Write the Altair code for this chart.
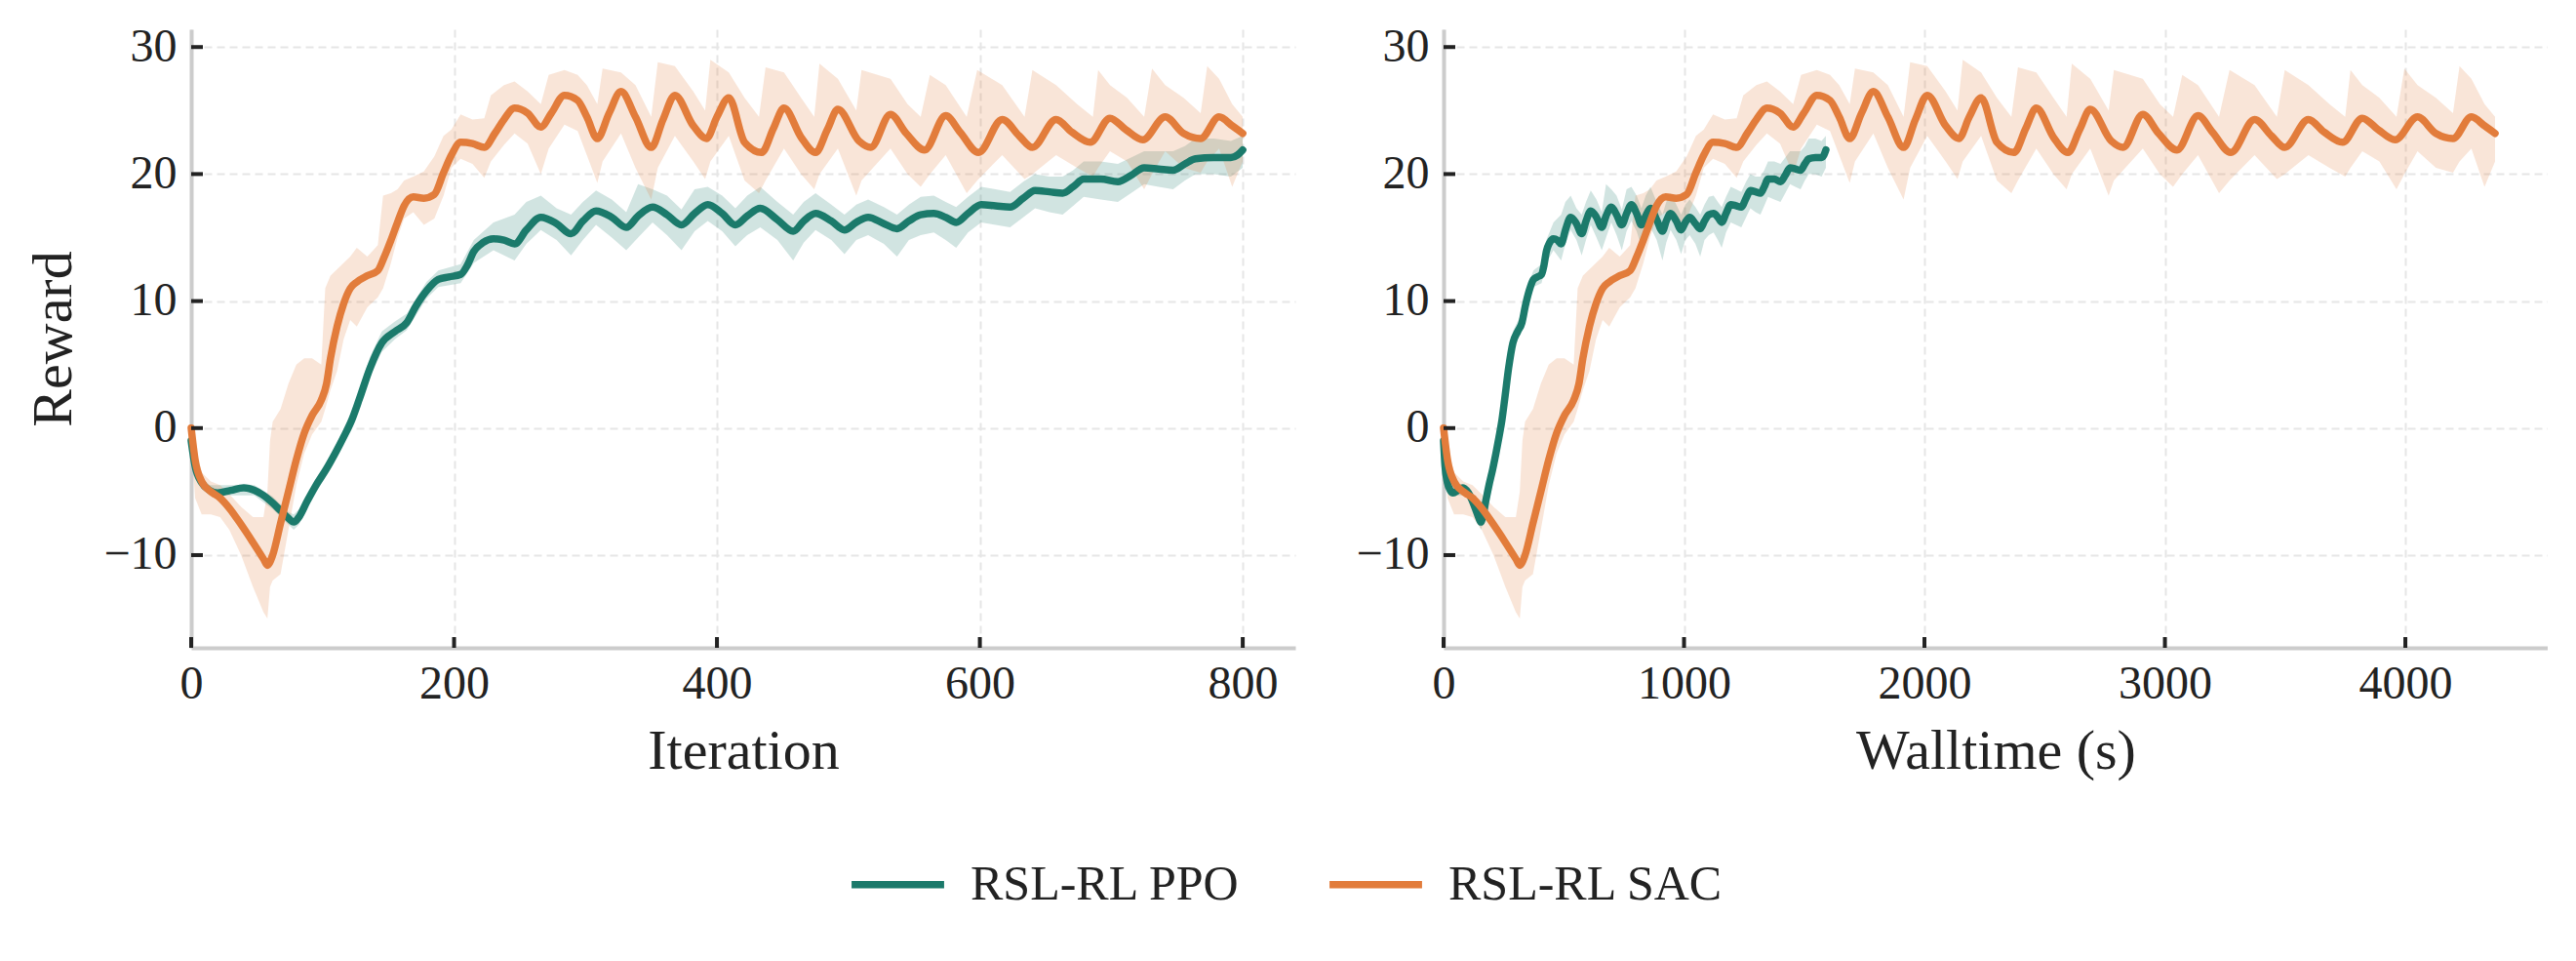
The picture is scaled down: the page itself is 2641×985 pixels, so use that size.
import altair as alt
import pandas as pd

METHODS = ["RSL-RL PPO", "RSL-RL SAC"]
COLORS = ["#1b7a6b", "#e27c3b"]
WALLTIME_AT_END = [1590, 4373]   # seconds reached at the last iteration
LAST_ITER = 800

Y_TICKS = [-10, 0, 10, 20, 30]
ITER_TICKS = [0, 200, 400, 600, 800]
WALL_TICKS = [0, 1000, 2000, 3000, 4000]
Y_DOMAIN = [-17.3, 31.4]
ITER_DOMAIN = [0, 840]
WALL_DOMAIN = [0, 4592]

# ---- RSL-RL PPO: smoothed mean ----
ppo_iter = [0, 3, 8, 14, 20, 30, 40, 48, 55, 62, 68, 74, 78, 82, 88, 95, 103, 110, 116, 122,
            128, 136, 145, 155, 164, 171, 179, 188, 196, 205, 210, 215, 222, 230, 238, 246, 255,
            266, 278, 289, 298, 308, 320, 331, 340, 351, 362, 373, 383, 393, 404, 414, 423, 433,
            446, 458, 466, 475, 487, 497, 506, 515, 527, 537, 546, 555, 565, 574, 582, 591, 601,
            612, 623, 633, 642, 653, 663, 671, 679, 692, 705, 715, 725, 736, 747, 756, 764, 778,
            791, 796, 800]
ppo_mean = [-1.0, -3.0, -4.3, -4.9, -5.1, -4.9, -4.7, -4.9, -5.3, -5.9, -6.5, -7.1, -7.4, -7.0,
            -5.8, -4.5, -3.2, -1.9, -0.7, 0.6, 2.3, 4.7, 6.7, 7.6, 8.3, 9.6, 10.8, 11.7, 11.9,
            12.1, 12.8, 13.9, 14.6, 14.9, 14.8, 14.5, 15.6, 16.6, 16.1, 15.3, 16.3, 17.1, 16.6,
            15.8, 16.7, 17.4, 16.8, 16.0, 16.9, 17.6, 16.9, 16.0, 16.7, 17.3, 16.4, 15.5, 16.3,
            16.9, 16.3, 15.6, 16.2, 16.6, 16.1, 15.7, 16.3, 16.8, 16.9, 16.6, 16.2, 16.9, 17.6,
            17.5, 17.4, 18.1, 18.7, 18.6, 18.5, 19.0, 19.6, 19.6, 19.4, 19.9, 20.5, 20.4, 20.3,
            20.8, 21.2, 21.3, 21.3, 21.5, 21.9]

# ---- RSL-RL PPO: spread band ----
ppo_band_iter = [0, 3, 8, 14, 30, 48, 62, 74, 78, 82, 95, 110, 122, 136, 145, 155, 164, 179, 188,
                 205, 215, 230, 246, 255, 266, 278, 289, 298, 308, 320, 331, 340, 351, 362, 373,
                 383, 393, 404, 414, 423, 433, 446, 458, 466, 475, 487, 497, 506, 515, 527, 537,
                 546, 555, 565, 574, 582, 591, 601, 612, 623, 633, 642, 653, 663, 671, 679, 692,
                 705, 715, 725, 736, 747, 756, 764, 778, 791, 800]
ppo_band_lo = [-1.5, -3.5, -4.7, -5.3, -5.3, -5.3, -6.4, -7.6, -8.0, -7.6, -5.0, -2.4, 0.0, 4.0,
               6.0, 7.0, 7.7, 10.2, 11.1, 11.4, 13.0, 14.0, 13.2, 14.5, 15.6, 14.8, 13.6, 14.8,
               16.0, 15.0, 14.0, 15.0, 16.2, 15.2, 14.0, 15.5, 16.3, 15.5, 14.3, 15.2, 15.8, 14.8,
               13.2, 14.6, 15.6, 14.8, 13.7, 14.8, 15.2, 14.5, 13.5, 14.8, 15.2, 15.4, 14.8, 14.2,
               15.4, 16.2, 16.0, 15.8, 16.6, 17.3, 17.0, 16.8, 17.5, 18.2, 18.0, 17.8, 18.5, 19.2,
               19.0, 18.8, 19.5, 20.0, 20.0, 19.8, 20.5]
ppo_band_hi = [-0.5, -2.5, -3.9, -4.5, -4.5, -4.5, -5.4, -6.6, -6.8, -6.4, -4.0, -1.4, 1.2, 5.6,
               7.6, 8.4, 9.0, 11.5, 12.4, 12.9, 14.8, 16.2, 16.8, 17.8, 18.3, 17.3, 16.8, 17.8,
               18.7, 18.0, 17.0, 19.2, 18.8, 18.3, 17.2, 18.8, 19.0, 18.3, 17.3, 18.3, 19.0, 17.8,
               16.8, 17.8, 18.5, 17.6, 16.8, 17.6, 18.0, 17.4, 16.8, 17.6, 18.2, 18.3, 17.8, 17.4,
               18.2, 19.0, 18.8, 18.6, 19.4, 20.0, 19.8, 19.8, 20.3, 21.0, 21.0, 20.8, 21.3, 21.8,
               21.8, 21.8, 22.2, 22.8, 22.8, 22.6, 23.0]

# ---- RSL-RL SAC: smoothed mean ----
sac_iter = [0, 3, 8, 15, 22, 29, 38, 47, 55, 58, 62, 68, 74, 80, 86, 92, 99, 103, 106, 111, 116,
            121, 126, 134, 142, 147, 152, 157, 162, 169, 177, 185, 192, 198, 205, 214, 223, 231,
            238, 246, 256, 266, 274, 284, 294, 301, 309, 318, 327, 338, 350, 359, 368, 382, 392,
            400, 409, 421, 434, 443, 451, 464, 475, 484, 492, 508, 517, 532, 544, 558, 574, 585,
            599, 617, 630, 640, 658, 670, 684, 699, 711, 724, 741, 755, 768, 782, 792, 800]
sac_mean = [0.0, -2.5, -4.2, -5.0, -5.5, -6.3, -7.6, -9.0, -10.3, -10.8, -10.0, -7.5, -5.0, -2.5,
            -0.4, 1.0, 2.2, 3.5, 5.5, 8.0, 9.8, 11.0, 11.5, 12.0, 12.4, 13.5, 14.8, 16.2, 17.5,
            18.2, 18.1, 18.4, 20.1, 21.5, 22.5, 22.4, 22.1, 23.2, 24.3, 25.2, 24.8, 23.7, 24.8,
            26.2, 25.8, 24.5, 22.8, 24.8, 26.5, 24.5, 22.1, 24.3, 26.2, 23.8, 22.8, 24.5, 26.0,
            22.5, 21.7, 23.6, 25.2, 22.9, 21.7, 23.5, 25.1, 22.6, 22.1, 24.7, 23.2, 21.9, 24.6,
            23.3, 21.7, 24.3, 23.0, 22.1, 24.3, 23.3, 22.5, 24.4, 23.5, 22.7, 24.5, 23.2, 22.8,
            24.5, 23.8, 23.2]

# ---- RSL-RL SAC: spread band ----
sac_band_iter = [0, 3, 8, 15, 22, 29, 38, 47, 55, 58, 60, 62, 68, 74, 80, 86, 92, 99, 102, 106,
                 111, 116, 121, 126, 134, 142, 146, 152, 157, 162, 169, 177, 185, 192, 198, 205,
                 214, 223, 228, 238, 246, 256, 266, 272, 284, 294, 301, 309, 313, 327, 338, 350,
                 355, 368, 382, 391, 395, 409, 421, 432, 437, 451, 464, 474, 478, 492, 506, 510,
                 532, 545, 555, 562, 574, 590, 598, 617, 634, 640, 658, 674, 686, 690, 699, 712,
                 725, 731, 741, 755, 768, 773, 782, 792, 800]
sac_band_lo = [-1.0, -5.5, -6.8, -6.8, -7.0, -8.0, -10.0, -12.5, -14.5, -15.0, -12.5, -12.0, -11.5,
               -8.0, -4.5, -2.0, -0.5, 0.5, 1.5, 3.0, 4.5, 7.0, 8.5, 8.0, 9.5, 10.3, 11.0, 13.0,
               15.0, 16.5, 17.0, 16.0, 16.5, 18.3, 20.5, 21.2, 20.8, 19.7, 21.0, 22.3, 23.2, 22.4,
               20.0, 22.0, 23.9, 23.4, 21.5, 19.3, 21.0, 23.2, 20.5, 18.0, 20.5, 23.0, 21.0, 19.6,
               21.0, 23.0, 19.5, 18.5, 19.5, 22.0, 20.0, 18.8, 20.0, 22.0, 18.3, 19.5, 22.0, 20.0,
               19.0, 20.0, 21.5, 18.5, 19.5, 21.5, 19.6, 20.0, 21.5, 20.5, 19.8, 20.5, 21.8, 21.0,
               18.8, 20.0, 21.8, 20.5, 20.1, 21.0, 22.0, 19.0, 21.0]
sac_band_hi = [0.5, -1.5, -3.5, -4.2, -4.5, -5.2, -6.2, -7.0, -7.0, -5.0, -1.0, 0.5, 1.5, 3.5, 5.0,
               5.5, 5.5, 5.0, 11.0, 12.0, 12.5, 13.0, 13.5, 14.2, 13.5, 14.4, 18.3, 18.5, 18.8,
               19.5, 19.8, 20.2, 21.4, 23.0, 23.5, 24.7, 24.3, 24.4, 26.2, 27.0, 27.3, 26.5, 25.5,
               27.8, 28.2, 27.8, 27.0, 25.5, 28.3, 28.0, 27.0, 24.5, 28.8, 28.5, 26.5, 25.0, 29.0,
               28.0, 26.0, 24.5, 28.4, 28.0, 26.0, 24.5, 28.7, 27.5, 25.0, 28.2, 27.5, 25.5, 24.5,
               27.8, 27.0, 24.5, 28.2, 27.0, 24.5, 28.2, 27.0, 25.5, 24.5, 28.2, 27.0, 26.0, 24.5,
               28.3, 27.0, 26.0, 24.8, 28.5, 27.5, 25.5, 24.5]

FONT = "Liberation Serif"
TEXT = "#222222"
W, H = 1132, 634


def wall(iters, total):
    return [i * total / LAST_ITER for i in iters]


mean_rows = []
band_rows = []
for m, its, vals, b_it, lo, hi, tot in [
    (METHODS[0], ppo_iter, ppo_mean, ppo_band_iter, ppo_band_lo, ppo_band_hi, WALLTIME_AT_END[0]),
    (METHODS[1], sac_iter, sac_mean, sac_band_iter, sac_band_lo, sac_band_hi, WALLTIME_AT_END[1]),
]:
    for it, wt, v in zip(its, wall(its, tot), vals):
        mean_rows.append({"method": m, "iter": it, "wall": wt, "reward": v})
    for it, wt, a, b in zip(b_it, wall(b_it, tot), lo, hi):
        band_rows.append({"method": m, "iter": it, "wall": wt, "lo": a, "hi": b})

mean_df = pd.DataFrame(mean_rows)
band_df = pd.DataFrame(band_rows)

color_scale = alt.Scale(domain=METHODS, range=COLORS)
y_scale = alt.Scale(domain=Y_DOMAIN, nice=False, zero=False)

LEGEND = alt.Legend(
    title=None, orient="none", legendX=673, legendY=825, direction="horizontal",
    symbolType="stroke", symbolSize=9000, symbolStrokeWidth=7.5, symbolOpacity=1,
    labelFont=FONT, labelFontSize=50, labelColor=TEXT, labelOffset=23, labelLimit=1000,
    columnPadding=76, columns=2, padding=0,
)


def panel(xfield, xdomain, xticks, xtitle, ytitle):
    x_scale = alt.Scale(domain=xdomain, nice=False, zero=False)
    x_axis = alt.Axis(values=xticks, title=xtitle, labelPadding=13, titlePadding=16,
                      format="d", labelFlush=False)
    y_axis = alt.Axis(values=Y_TICKS, title=ytitle, labelPadding=15, titlePadding=21,
                      format="d")
    xenc = alt.X(f"{xfield}:Q", scale=x_scale, axis=x_axis)

    band = alt.Chart(band_df).mark_area(opacity=0.2, interpolate="linear").encode(
        x=xenc,
        y=alt.Y("lo:Q", scale=y_scale, axis=y_axis),
        y2="hi:Q",
        color=alt.Color("method:N", scale=color_scale, legend=LEGEND),
        detail="method:N",
    )
    line = alt.Chart(mean_df).mark_line(
        strokeWidth=7.5, interpolate="monotone", strokeCap="round", strokeJoin="round"
    ).encode(
        x=xenc,
        y=alt.Y("reward:Q", scale=y_scale, axis=y_axis),
        color=alt.Color("method:N", scale=color_scale, legend=LEGEND),
        order=alt.Order("iter:Q"),
    )
    ytick_df = pd.DataFrame({"reward": Y_TICKS})
    yt = alt.Chart(ytick_df).mark_rule(color=TEXT, strokeWidth=4).encode(
        y=alt.Y("reward:Q", scale=y_scale, axis=y_axis),
        x=alt.value(0), x2=alt.value(12),
    )
    xtick_df = pd.DataFrame({xfield: xticks})
    xt = alt.Chart(xtick_df).mark_rule(color=TEXT, strokeWidth=4).encode(
        x=xenc,
        y=alt.value(H - 11), y2=alt.value(H),
    )
    return alt.layer(band, line, yt, xt).properties(width=W, height=H)


left = panel("iter", ITER_DOMAIN, ITER_TICKS, "Iteration", "Reward")
right = panel("wall", WALL_DOMAIN, WALL_TICKS, "Walltime (s)", None)

chart = alt.hconcat(left, right, spacing=152, bounds="flush").resolve_scale(
    x="independent", y="shared", color="shared"
).properties(
    padding={"left": 26, "top": 24, "right": 0, "bottom": 0}
).configure_view(stroke=None).configure_axis(
    domainColor="#cccccc", domainWidth=4,
    grid=True, gridColor="#e6e6e6", gridDash=[8, 5], gridWidth=2,
    ticks=False,
    labelFont=FONT, labelFontSize=48, labelColor=TEXT,
    titleFont=FONT, titleFontSize=58, titleFontWeight="normal", titleColor=TEXT,
)

chart.save("out.html", embed_options={"renderer": "svg", "actions": False})
